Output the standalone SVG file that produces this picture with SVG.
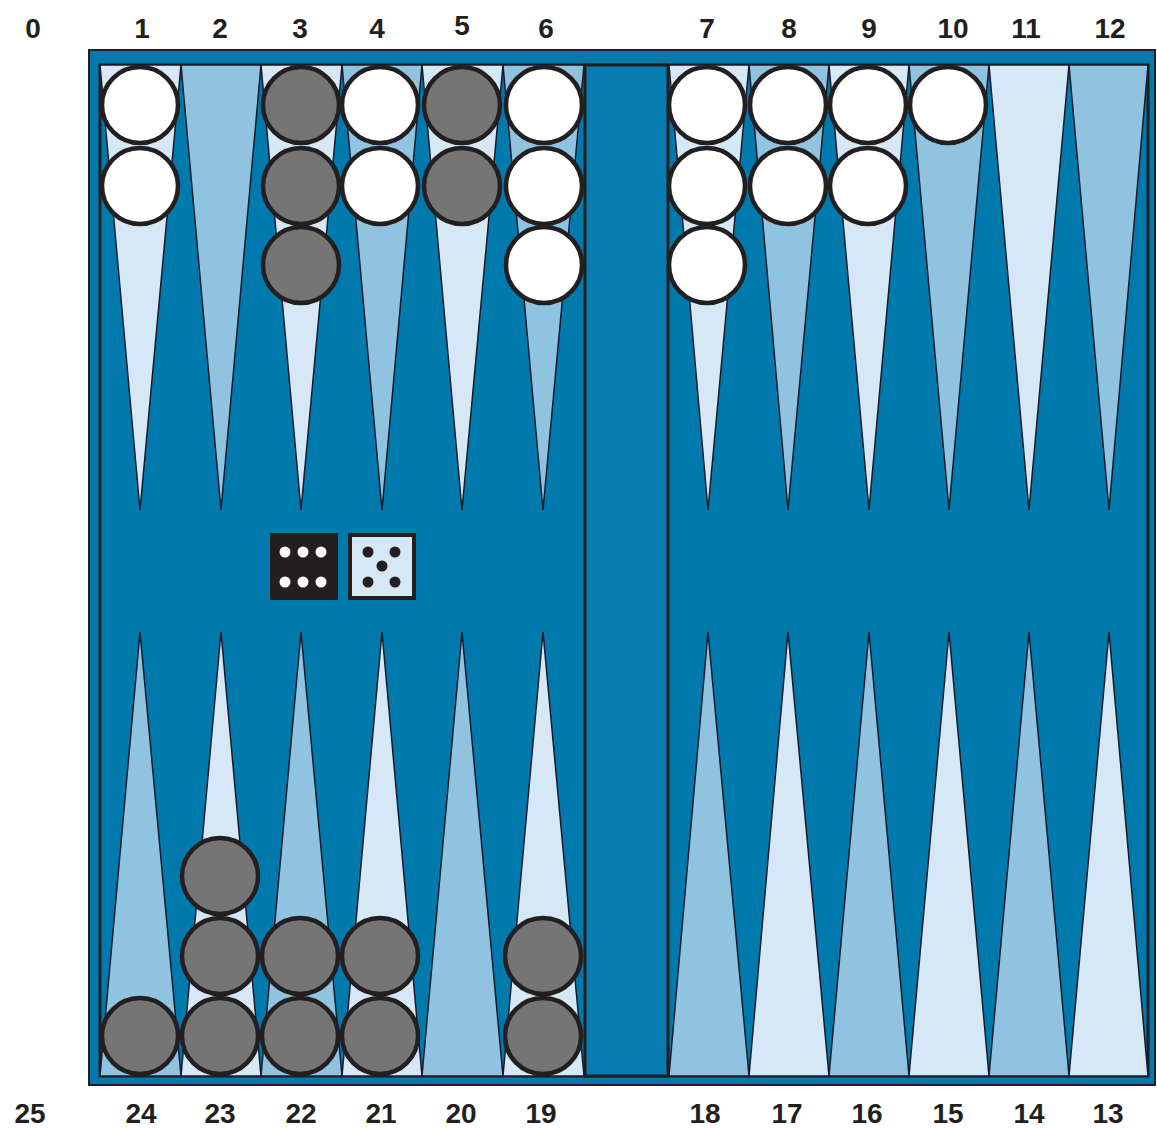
<svg xmlns="http://www.w3.org/2000/svg" width="1157" height="1128" viewBox="0 0 1157 1128">
<style>
.lbl{font-family:"Liberation Sans",Arial,sans-serif;font-weight:bold;font-size:28px;fill:#231f20;text-anchor:middle}
.pl{fill:#d6e8f5;stroke:#1a1a2a;stroke-width:1.5;stroke-linejoin:miter}
.pm{fill:#8fc3e0;stroke:#1a1a2a;stroke-width:1.5;stroke-linejoin:miter}
.w{fill:#ffffff;stroke:#231f20;stroke-width:4.5}
.g{fill:#757575;stroke:#231f20;stroke-width:4.5}
.frame{fill:#0079ad;stroke:#231f20}
</style>
<rect width="1157" height="1128" fill="#ffffff"/>
<g id="board">
<rect class="frame" x="89" y="50" width="1066" height="1035" stroke-width="2"/>
<rect class="frame" x="100" y="65" width="1048" height="1011" stroke-width="3"/>
<rect id="bar" x="585" y="65" width="83" height="1011" fill="#077cb0" stroke="#231f20" stroke-width="3"/>
</g>
<g id="points">
<polygon class="pl" points="100,65 181,65 140,510"/>
<polygon class="pm" points="181,65 261,65 221,510"/>
<polygon class="pl" points="261,65 342,65 301,510"/>
<polygon class="pm" points="342,65 422,65 382,510"/>
<polygon class="pl" points="422,65 503,65 462,510"/>
<polygon class="pm" points="503,65 584,65 543,510"/>
<polygon class="pl" points="669,65 749,65 708,510"/>
<polygon class="pm" points="749,65 829,65 788,510"/>
<polygon class="pl" points="829,65 909,65 869,510"/>
<polygon class="pm" points="909,65 989,65 949,510"/>
<polygon class="pl" points="989,65 1069,65 1029,510"/>
<polygon class="pm" points="1069,65 1148,65 1109,510"/>
<polygon class="pm" points="100,1076 181,1076 140,632"/>
<polygon class="pl" points="181,1076 261,1076 221,632"/>
<polygon class="pm" points="261,1076 342,1076 301,632"/>
<polygon class="pl" points="342,1076 422,1076 382,632"/>
<polygon class="pm" points="422,1076 503,1076 462,632"/>
<polygon class="pl" points="503,1076 584,1076 543,632"/>
<polygon class="pm" points="669,1076 749,1076 708,632"/>
<polygon class="pl" points="749,1076 829,1076 788,632"/>
<polygon class="pm" points="829,1076 909,1076 869,632"/>
<polygon class="pl" points="909,1076 989,1076 949,632"/>
<polygon class="pm" points="989,1076 1069,1076 1029,632"/>
<polygon class="pl" points="1069,1076 1148,1076 1109,632"/>
</g>
<g id="checkers">
<circle class="w" cx="140" cy="105" r="38"/>
<circle class="w" cx="140" cy="186" r="38"/>
<circle class="g" cx="301" cy="105" r="38"/>
<circle class="g" cx="301" cy="186" r="38"/>
<circle class="g" cx="301" cy="265" r="38"/>
<circle class="w" cx="380" cy="105" r="38"/>
<circle class="w" cx="380" cy="186" r="38"/>
<circle class="g" cx="462" cy="105" r="38"/>
<circle class="g" cx="462" cy="186" r="38"/>
<circle class="w" cx="544" cy="105" r="38"/>
<circle class="w" cx="544" cy="186" r="38"/>
<circle class="w" cx="544" cy="265" r="38"/>
<circle class="w" cx="707" cy="105" r="38"/>
<circle class="w" cx="707" cy="186" r="38"/>
<circle class="w" cx="707" cy="265" r="38"/>
<circle class="w" cx="788" cy="105" r="38"/>
<circle class="w" cx="788" cy="186" r="38"/>
<circle class="w" cx="868" cy="105" r="38"/>
<circle class="w" cx="868" cy="186" r="38"/>
<circle class="w" cx="948" cy="105" r="38"/>
<circle class="g" cx="140" cy="1036" r="38"/>
<circle class="g" cx="220" cy="876" r="38"/>
<circle class="g" cx="220" cy="956" r="38"/>
<circle class="g" cx="220" cy="1036" r="38"/>
<circle class="g" cx="300" cy="956" r="38"/>
<circle class="g" cx="300" cy="1036" r="38"/>
<circle class="g" cx="380" cy="956" r="38"/>
<circle class="g" cx="380" cy="1036" r="38"/>
<circle class="g" cx="543" cy="956" r="38"/>
<circle class="g" cx="543" cy="1036" r="38"/>
</g>
<g id="die-six">
<rect x="271" y="534" width="66" height="65" fill="#231f20" stroke="#231f20" stroke-width="2"/>
<g fill="#ffffff">
<circle cx="285" cy="552" r="5.5"/><circle cx="303" cy="552" r="5.5"/><circle cx="321" cy="552" r="5.5"/>
<circle cx="285" cy="582" r="5.5"/><circle cx="303" cy="582" r="5.5"/><circle cx="321" cy="582" r="5.5"/>
</g>
</g>
<g id="die-five">
<rect x="350" y="535" width="64" height="63" fill="#d6e8f5" stroke="#231f20" stroke-width="4"/>
<g fill="#231f20">
<circle cx="368" cy="552" r="5.5"/><circle cx="395" cy="552" r="5.5"/>
<circle cx="382" cy="566" r="5.5"/>
<circle cx="368" cy="582" r="5.5"/><circle cx="395" cy="582" r="5.5"/>
</g>
</g>
<g id="labels">
<text class="lbl" x="33" y="38">0</text>
<text class="lbl" x="142" y="38">1</text>
<text class="lbl" x="220" y="38">2</text>
<text class="lbl" x="300" y="38">3</text>
<text class="lbl" x="377" y="38">4</text>
<text class="lbl" x="462" y="35">5</text>
<text class="lbl" x="546" y="38">6</text>
<text class="lbl" x="707" y="38">7</text>
<text class="lbl" x="789" y="38">8</text>
<text class="lbl" x="869" y="38">9</text>
<text class="lbl" x="953" y="38">10</text>
<text class="lbl" x="1026" y="38">11</text>
<text class="lbl" x="1110" y="38">12</text>
<text class="lbl" x="30" y="1123">25</text>
<text class="lbl" x="141" y="1123">24</text>
<text class="lbl" x="220" y="1123">23</text>
<text class="lbl" x="301" y="1123">22</text>
<text class="lbl" x="381" y="1123">21</text>
<text class="lbl" x="461" y="1123">20</text>
<text class="lbl" x="541" y="1123">19</text>
<text class="lbl" x="705" y="1123">18</text>
<text class="lbl" x="787" y="1123">17</text>
<text class="lbl" x="867" y="1123">16</text>
<text class="lbl" x="948" y="1123">15</text>
<text class="lbl" x="1029" y="1123">14</text>
<text class="lbl" x="1108" y="1123">13</text>
</g>
</svg>
